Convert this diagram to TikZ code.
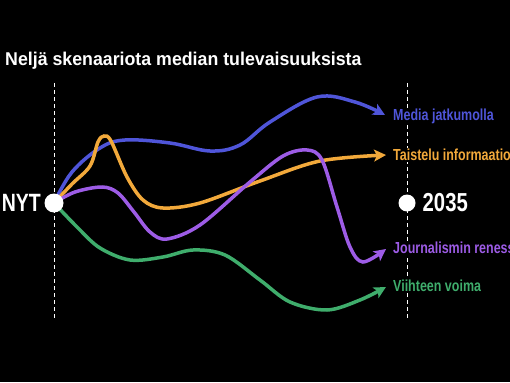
\documentclass[tikz,border=0pt]{standalone}
\usepackage{fontspec}
\setmainfont{Liberation Sans}[FakeStretch=0.78]
\newfontfamily\titlefont{Liberation Sans}[FakeStretch=0.96]
\usetikzlibrary{arrows.meta}
\definecolor{cblue}{HTML}{4F55D9}
\definecolor{corange}{HTML}{F2A93B}
\definecolor{cpurple}{HTML}{9D5CE6}
\definecolor{cgreen}{HTML}{3FAD6C}
\tikzset{
  guide/.style={white, line width=0.9pt, dash pattern=on 4pt off 3pt},
  scen/.style={line width=3.5pt, line cap=round, -{Stealth[length=12pt,width=12pt,inset=3pt]}},
  lbl/.style={anchor=west, font=\bfseries\fontsize{16}{16}\selectfont, fill=black, inner sep=1pt},
  dot/.style={circle, fill=white, minimum size=#1, inner sep=0pt},
}
\begin{document}
\begin{tikzpicture}[x=1pt,y=-1pt]
\fill[black] (0,0) rectangle (510,382);
\useasboundingbox (0,0) rectangle (510,382);
\clip (0,0) rectangle (510,382);
\node[anchor=base west, white, font=\titlefont\bfseries\fontsize{18.5}{18.5}\selectfont, inner sep=0pt] (title) at (5,65.5) {Neljä skenaariota median tulevaisuuksista};
\draw[guide] (54,83) -- (54,318);
\draw[guide] (407,83) -- (407,318);
\coordinate (start) at (54,203);
\coordinate (eb) at (385,115);
\coordinate (eo) at (386,155);
\coordinate (ep) at (386,249);
\coordinate (eg) at (386,287);
\draw[scen, cblue] plot[smooth, tension=0.6] coordinates {(start) (72,172) (100,148) (125,140) (170,143) (210,151) (240,145) (270,122) (317,97) (355,102) (eb)};
\draw[scen, corange] plot[smooth, tension=0.55] coordinates {(start) (72,184) (90,166) (98,142) (104,136) (111,141) (127,177) (143,200) (163,208) (200,203) (260,181) (320,161) (eo)};
\draw[scen, cpurple] plot[smooth, tension=0.55] coordinates {(start) (75,192) (102,187) (118,193) (134,212) (150,232) (167,239) (200,225) (250,182) (283,156) (307,150) (322,160) (337,207) (350,247) (363,262) (ep)};
\draw[scen, cgreen] plot[smooth, tension=0.55] coordinates {(start) (78,228) (100,248) (130,260) (163,257) (193,250) (225,255) (260,280) (290,302) (327,310) (360,300) (eg)};
\node[dot=19pt] (nyt) at (start) {};
\node[anchor=east, white, font=\bfseries\fontsize{25}{25}\selectfont, inner sep=0pt] (nytl) at (41,203) {NYT};
\node[dot=17pt] (end) at (407,203) {};
\node[anchor=west, white, font=\bfseries\fontsize{26}{26}\selectfont, inner sep=0pt] (endl) at (422.5,203) {2035};
\node[lbl, text=cblue] (lb) at (392,116) {Media jatkumolla};
\node[lbl, text=corange] (lo) at (392,155) {Taistelu informaatiosta};
\node[lbl, text=cpurple] (lp) at (392,248) {Journalismin renessanssi};
\node[lbl, text=cgreen] (lg) at (392,286) {Viihteen voima};
\end{tikzpicture}
\end{document}
